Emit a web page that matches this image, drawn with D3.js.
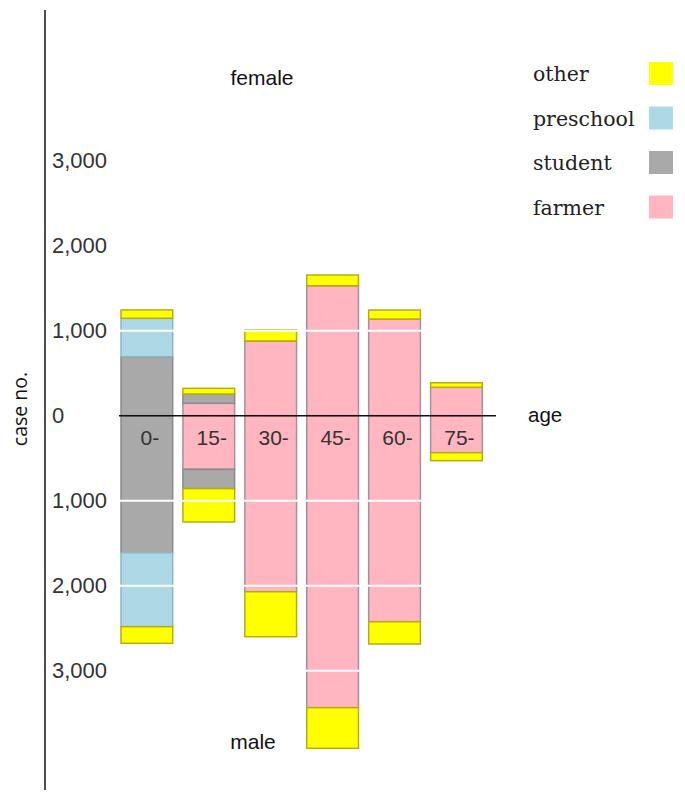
<!DOCTYPE html>
<html>
<head>
<meta charset="utf-8">
<script src="https://cdn.jsdelivr.net/npm/d3@7"></script>
<style>
  html, body { margin: 0; padding: 0; background: #fff; }
  svg { display: block; }
</style>
</head>
<body>
<svg id="chart" width="685" height="804"></svg>
<script>
// ---- data ----
const ages = ["0-", "15-", "30-", "45-", "60-", "75-"];
const keys = ["farmer", "student", "preschool", "other"];
const legendKeys = ["other", "preschool", "student", "farmer"];
// female (upper half)
const femaleFarmer    = [0, 146, 879, 1529, 1137, 334];
const femaleStudent   = [694, 109, 0, 0, 0, 0];
const femalePreschool = [452, 0, 0, 0, 0, 0];
const femaleOther     = [98, 67, 129, 126, 106, 54];
// male (lower half)
const maleFarmer    = [0, 631, 2071, 3435, 2424, 435];
const maleStudent   = [1612, 227, 0, 0, 0, 0];
const malePreschool = [870, 0, 0, 0, 0, 0];
const maleOther     = [196, 392, 529, 478, 262, 94];
const tickValues = [3000, 2000, 1000, 0, -1000, -2000, -3000];
const gridValues = [3000, 2000, 1000, -1000, -2000, -3000];

const fills   = { other: "#ffff00", preschool: "#add8e6", student: "#a9a9a9", farmer: "#ffb6c1" };
const strokes = { other: "#b5ad10", preschool: "#93b4c2", student: "#8a8a8a", farmer: "#a8909a" };

const svg = d3.select("#chart");
const sans = "'Liberation Sans', Arial, sans-serif";

const x = d3.scaleBand().domain(ages).range([121, 482.3]).paddingInner(0.165).paddingOuter(0);
const y = d3.scaleLinear().domain([-4000, 4000]).range([755.7, 75.7]);

function rows(f, s, p, o, sign) {
  return ages.map((a, i) => ({ age: a, farmer: f[i], student: s[i], preschool: p[i], other: o[i], sign }));
}
const femaleRows = rows(femaleFarmer, femaleStudent, femalePreschool, femaleOther, 1);
const maleRows   = rows(maleFarmer, maleStudent, malePreschool, maleOther, -1);

const stack = d3.stack().keys(keys);
[femaleRows, maleRows].forEach(data => {
  const sign = data[0].sign;
  const series = stack(data);
  const g = svg.append("g");
  series.forEach(s => {
    g.selectAll(null)
      .data(s.filter(d => d[1] - d[0] > 0))
      .enter().append("rect")
      .attr("x", d => x(d.data.age))
      .attr("width", x.bandwidth())
      .attr("y", d => Math.min(y(sign * d[0]), y(sign * d[1])))
      .attr("height", d => Math.abs(y(sign * d[1]) - y(sign * d[0])))
      .attr("fill", fills[s.key])
      .attr("stroke", strokes[s.key])
      .attr("stroke-width", 1.5);
  });
});

// white grid lines over bars
svg.append("g").selectAll("line").data(gridValues).enter().append("line")
  .attr("x1", 119).attr("x2", 496)
  .attr("y1", d => y(d)).attr("y2", d => y(d))
  .attr("stroke", "#fff").attr("stroke-width", 2);

// zero line
svg.append("line")
  .attr("x1", 119).attr("x2", 496)
  .attr("y1", y(0)).attr("y2", y(0))
  .attr("stroke", "#111").attr("stroke-width", 1.6);

// vertical axis
svg.append("line")
  .attr("x1", 45).attr("x2", 45).attr("y1", 10).attr("y2", 790)
  .attr("stroke", "#222").attr("stroke-width", 1.6);

const axis = d3.axisRight(y)
  .tickValues(tickValues)
  .tickSize(0)
  .tickPadding(7)
  .tickFormat(d => d3.format(",")(Math.abs(d)));
const ag = svg.append("g").attr("transform", "translate(45,0)").call(axis);
ag.select(".domain").remove();
ag.selectAll("text")
  .attr("font-family", sans).attr("font-size", 22).attr("fill", "#333");

// category labels
svg.append("g").selectAll("text").data(ages).enter().append("text")
  .attr("x", d => x(d) + x.bandwidth() / 2 + 3)
  .attr("y", 445)
  .attr("text-anchor", "middle")
  .attr("font-family", sans).attr("font-size", 21).attr("fill", "#333")
  .text(d => d);

// titles
svg.append("text").attr("x", 262).attr("y", 85).attr("text-anchor", "middle")
  .attr("font-family", sans).attr("font-size", 21).attr("fill", "#111").text("female");
svg.append("text").attr("x", 253).attr("y", 749).attr("text-anchor", "middle")
  .attr("font-family", sans).attr("font-size", 21).attr("fill", "#111").text("male");
svg.append("text").attr("x", 528).attr("y", 422)
  .attr("font-family", sans).attr("font-size", 20.5).attr("fill", "#111").text("age");
svg.append("text")
  .attr("transform", "translate(27,409) rotate(-90)")
  .attr("text-anchor", "middle")
  .attr("font-family", "'Open Sans', sans-serif").attr("font-size", 19.5).attr("fill", "#111")
  .text("case no.");

// legend
const lg = svg.append("g").selectAll("g").data(legendKeys).enter().append("g")
  .attr("transform", (d, i) => `translate(0,${i * 44.5})`);
lg.append("text").attr("x", 533).attr("y", 81)
  .attr("font-family", "'DejaVu Serif', serif").attr("font-size", 20.5).attr("fill", "#222")
  .text(d => d);
lg.append("rect").attr("x", 649).attr("y", 62).attr("width", 24).attr("height", 23)
  .attr("fill", d => fills[d]);
</script>
</body>
</html>
